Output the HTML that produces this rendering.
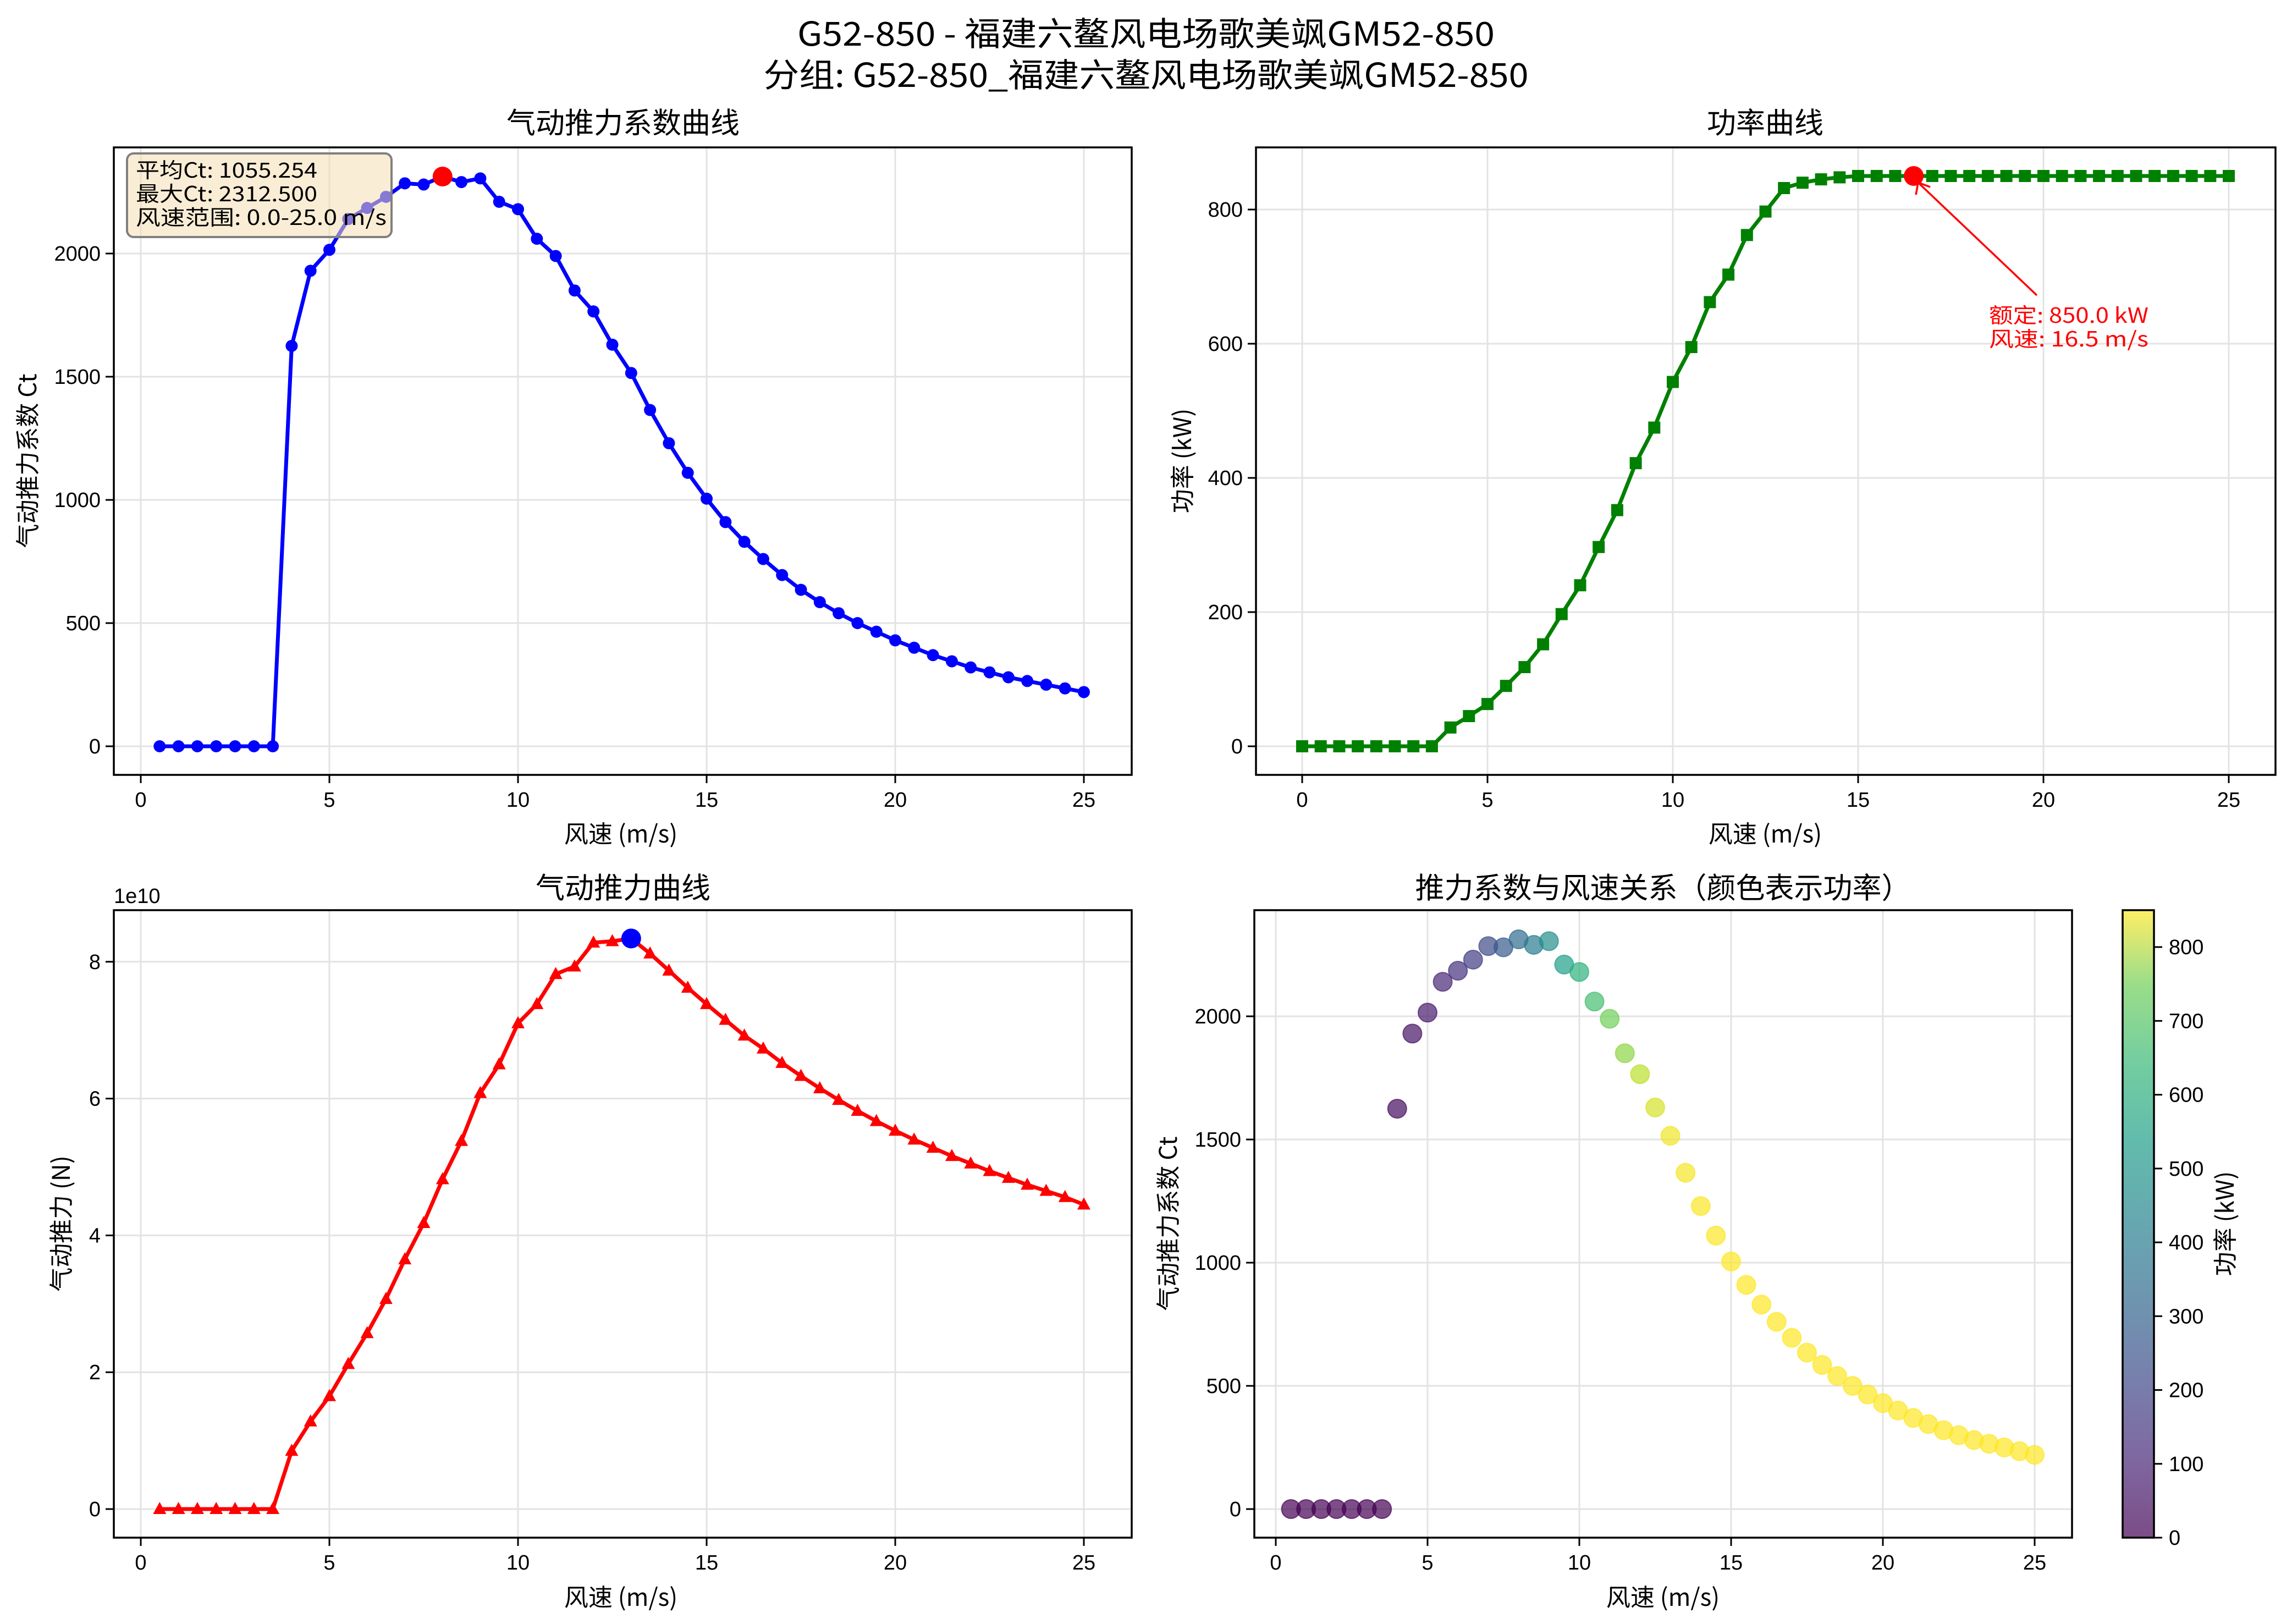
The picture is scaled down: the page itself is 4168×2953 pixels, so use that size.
<!DOCTYPE html>
<html><head><meta charset="utf-8">
<style>
html,body{margin:0;padding:0;background:#fff;}
svg{display:block;}
text{font-family:"Liberation Sans","Noto Sans CJK SC",sans-serif;fill:#000;}
.cj{font-family:"Noto Sans CJK SC","WenQuanYi Zen Hei",sans-serif;}
.tk{font-size:38px;}
</style></head>
<body>
<svg id="s" width="4168" height="2953" viewBox="0 0 4168 2953" xmlns="http://www.w3.org/2000/svg">
<defs>
<linearGradient id="vir" x1="0" y1="1" x2="0" y2="0">
<stop offset="0" stop-color="#440154"/><stop offset="0.13" stop-color="#482878"/><stop offset="0.25" stop-color="#3e4989"/><stop offset="0.38" stop-color="#31688e"/><stop offset="0.5" stop-color="#26828e"/><stop offset="0.63" stop-color="#1f9e89"/><stop offset="0.75" stop-color="#35b779"/><stop offset="0.88" stop-color="#6ece58"/><stop offset="1" stop-color="#fde725"/>
</linearGradient>
</defs>
<text class="cj" x="2084" y="83" font-size="60" text-anchor="middle" textLength="1268" lengthAdjust="spacingAndGlyphs">G52-850 - 福建六鳌风电场歌美飒GM52-850</text>
<text class="cj" x="2084" y="158" font-size="60" text-anchor="middle" textLength="1391" lengthAdjust="spacingAndGlyphs">分组: G52-850_福建六鳌风电场歌美飒GM52-850</text>
<g id="g"></g>
</svg>
<script>
const NS="http://www.w3.org/2000/svg";const G=document.getElementById('g');
function el(t,a,txt){const e=document.createElementNS(NS,t);for(const k in a)e.setAttribute(k,a[k]);if(txt!==undefined)e.textContent=txt;G.appendChild(e);return e;}
const ct=[0,0,0,0,0,0,0,1625,1930,2015,2140,2185,2230,2285,2280,2312.5,2290,2305,2210,2180,2060,1990,1850,1765,1630,1515,1365,1230,1110,1005,910,830,760,695,635,585,540,500,465,430,400,370,345,320,300,280,265,250,235,220];
const vs=[];for(let i=1;i<=50;i++)vs.push(i*0.5);
const pw=[0,0,0,0,0,0,0,0,28,45,63,90,118,152,197,240,297,352,422,475,543,595,662,703,762,797,832,840,845,848];
while(pw.length<51)pw.push(850);
const th=[0,0,0,0,0,0,0,0.85,1.28,1.65,2.12,2.57,3.07,3.65,4.18,4.82,5.38,6.08,6.5,7.1,7.38,7.82,7.93,8.28,8.3,8.34,8.12,7.87,7.62,7.38,7.15,6.92,6.73,6.52,6.33,6.15,5.98,5.82,5.67,5.53,5.4,5.28,5.16,5.05,4.94,4.84,4.74,4.65,4.56,4.45];
function axes(o){
 const {L,R,T,B,x0,xu,y0,yu,yt,ylab,xticks}=o;
 const X=v=>x0+v*xu, Y=v=>y0-v*yu;
 for(const t of xticks){el('line',{x1:X(t),x2:X(t),y1:T,y2:B,stroke:'#e3e3e3','stroke-width':3});}
 for(const t of yt){el('line',{x1:L,x2:R,y1:Y(t),y2:Y(t),stroke:'#e3e3e3','stroke-width':3});}
 for(const t of xticks){el('line',{x1:X(t),x2:X(t),y1:B,y2:B+15,stroke:'#000','stroke-width':3});el('text',{x:X(t),y:B+58,'text-anchor':'middle',class:'tk'},t);}
 for(const t of yt){el('line',{x1:L-15,x2:L,y1:Y(t),y2:Y(t),stroke:'#000','stroke-width':3});el('text',{x:L-24,y:Y(t)+13,'text-anchor':'end',class:'tk'},ylab?ylab(t):t);}
 return {X,Y};
}
function frame(L,R,T,B){el('rect',{x:L,y:T,width:R-L,height:B-T,fill:'none',stroke:'#000','stroke-width':3.5});}
function poly(pts,c){el('polyline',{points:pts.map(p=>p.join(',')).join(' '),fill:'none',stroke:c,'stroke-width':7,'stroke-linejoin':'round'});}
function vir(t){const s=[[68,1,84],[72,40,120],[62,73,137],[49,104,142],[38,130,142],[31,158,137],[53,183,121],[110,206,88],[181,222,43],[253,231,37]];t=Math.max(0,Math.min(1,t))*(s.length-1);const i=Math.min(Math.floor(t),s.length-2),f=t-i;const c=s[i].map((v,k)=>Math.round(v+(s[i+1][k]-v)*f));return `rgb(${c})`;}
// TL
let a=axes({L:207,R:2058,T:268,B:1409,x0:256,xu:68.6,y0:1357,yu:0.448,yt:[0,500,1000,1500,2000],xticks:[0,5,10,15,20,25]});
let pts=vs.map((v,i)=>[a.X(v),a.Y(ct[i])]);poly(pts,'#0000ff');
pts.forEach(p=>el('circle',{cx:p[0],cy:p[1],r:11,fill:'#0000ff'}));
el('circle',{cx:a.X(8),cy:a.Y(2312.5),r:18,fill:'#ff0000'});
frame(207,2058,268,1409);
el('rect',{x:231,y:279,width:481,height:152,rx:12,fill:'#f5deb3','fill-opacity':0.55,stroke:'#808080','stroke-width':4});
['平均Ct: 1055.254','最大Ct: 2312.500','风速范围: 0.0-25.0 m/s'].forEach((s,i)=>el('text',{x:247,y:323+i*43,'font-size':38,class:'cj',textLength:[330,330,456][i],lengthAdjust:'spacingAndGlyphs'},s));
el('text',{x:1133,y:242,'font-size':53,class:'cj','text-anchor':'middle'},'气动推力系数曲线');
el('text',{x:1129,y:1532,'font-size':44,class:'cj','text-anchor':'middle'},'风速 (m/s)');
el('text',{transform:'translate(66,838) rotate(-90)','font-size':44,class:'cj','text-anchor':'middle'},'气动推力系数 Ct');
// TR
a=axes({L:2284,R:4138,T:268,B:1409,x0:2368,xu:67.4,y0:1357,yu:1.22,yt:[0,200,400,600,800],xticks:[0,5,10,15,20,25]});
const vp=[];for(let i=0;i<=50;i++)vp.push(i*0.5);
pts=vp.map((v,i)=>[a.X(v),a.Y(pw[i])]);poly(pts,'#008000');
pts.forEach(p=>el('rect',{x:p[0]-11,y:p[1]-11,width:22,height:22,fill:'#008000'}));
el('circle',{cx:a.X(16.5),cy:a.Y(850),r:18,fill:'#ff0000'});
el('line',{x1:3704,y1:537,x2:a.X(16.5)+8,y2:a.Y(850)+12,stroke:'#ff0000','stroke-width':3.5});
el('polyline',{points:`${a.X(16.5)+4},${a.Y(850)+34} ${a.X(16.5)+8},${a.Y(850)+12} ${a.X(16.5)+30},${a.Y(850)+20}`,fill:'none',stroke:'#ff0000','stroke-width':3.5});
el('text',{x:3617,y:587,'font-size':38,class:'cj',style:'fill:#ff0000',textLength:290,lengthAdjust:'spacingAndGlyphs'},'额定: 850.0 kW');
el('text',{x:3617,y:630,'font-size':38,class:'cj',style:'fill:#ff0000',textLength:290,lengthAdjust:'spacingAndGlyphs'},'风速: 16.5 m/s');
frame(2284,4138,268,1409);
el('text',{x:3210,y:242,'font-size':53,class:'cj','text-anchor':'middle'},'功率曲线');
el('text',{x:3210,y:1532,'font-size':44,class:'cj','text-anchor':'middle'},'风速 (m/s)');
el('text',{transform:'translate(2166,838) rotate(-90)','font-size':44,class:'cj','text-anchor':'middle'},'功率 (kW)');
// BL
a=axes({L:207,R:2058,T:1655,B:2796,x0:256,xu:68.6,y0:2744,yu:124.4,yt:[0,2,4,6,8],xticks:[0,5,10,15,20,25]});
pts=vs.map((v,i)=>[a.X(v),a.Y(th[i])]);poly(pts,'#ff0000');
pts.forEach(p=>el('polygon',{points:`${p[0]},${p[1]-13} ${p[0]-12},${p[1]+9} ${p[0]+12},${p[1]+9}`,fill:'#ff0000'}));
el('circle',{cx:a.X(13),cy:a.Y(8.34),r:18,fill:'#0000ff'});
frame(207,2058,1655,2796);
el('text',{x:207,y:1642,class:'tk'},'1e10');
el('text',{x:1133,y:1633,'font-size':53,class:'cj','text-anchor':'middle'},'气动推力曲线');
el('text',{x:1129,y:2920,'font-size':44,class:'cj','text-anchor':'middle'},'风速 (m/s)');
el('text',{transform:'translate(127,2225) rotate(-90)','font-size':44,class:'cj','text-anchor':'middle'},'气动推力 (N)');
// BR
a=axes({L:2281,R:3768,T:1655,B:2796,x0:2320,xu:55.2,y0:2744,yu:0.448,yt:[0,500,1000,1500,2000],xticks:[0,5,10,15,20,25]});
vs.forEach((v,i)=>el('circle',{cx:a.X(v),cy:a.Y(ct[i]),r:17,fill:vir(pw[i+1]/850),'fill-opacity':0.7,stroke:vir(pw[i+1]/850),'stroke-opacity':0.7,'stroke-width':2}));
frame(2281,3768,1655,2796);
el('text',{x:3024,y:1633,'font-size':53,class:'cj','text-anchor':'middle'},'推力系数与风速关系（颜色表示功率）');
el('text',{x:3024,y:2920,'font-size':44,class:'cj','text-anchor':'middle'},'风速 (m/s)');
el('text',{transform:'translate(2140,2225) rotate(-90)','font-size':44,class:'cj','text-anchor':'middle'},'气动推力系数 Ct');
// colorbar
el('rect',{x:3860,y:1655,width:57,height:1141,fill:'url(#vir)','fill-opacity':0.7});
el('rect',{x:3860,y:1655,width:57,height:1141,fill:'none',stroke:'#000','stroke-width':3.5});
for(let t=0;t<=800;t+=100){const y=2796-t*1.3424;el('line',{x1:3917,x2:3932,y1:y,y2:y,stroke:'#000','stroke-width':3});el('text',{x:3944,y:y+13,class:'tk'},t);}
el('text',{transform:'translate(4062,2225) rotate(-90)','font-size':44,class:'cj','text-anchor':'middle'},'功率 (kW)');
</script>
</body></html>
